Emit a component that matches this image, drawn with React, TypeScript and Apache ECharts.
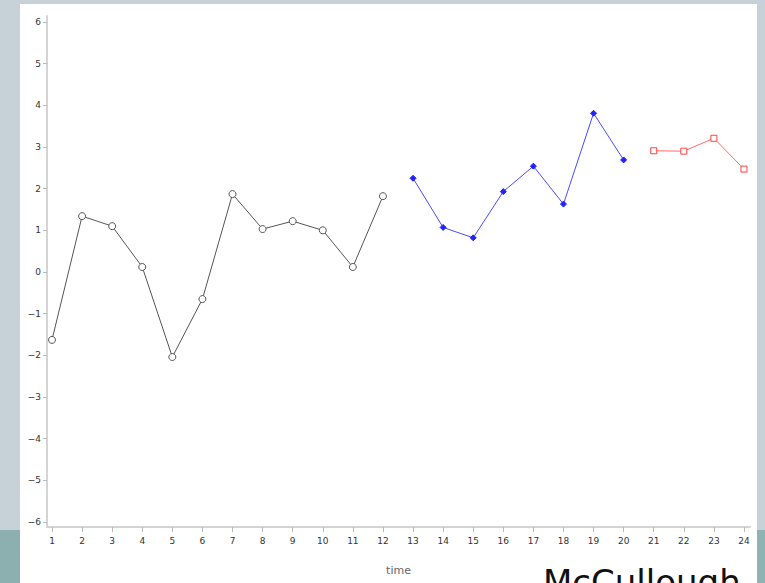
import React, { useEffect, useRef } from "react";
import * as echarts from "echarts";

const xTicks = [1, 2, 3, 4, 5, 6, 7, 8, 9, 10, 11, 12, 13, 14, 15, 16, 17, 18, 19, 20, 21, 22, 23, 24];
const yTicks = [-6, -5, -4, -3, -2, -1, 0, 1, 2, 3, 4, 5, 6];

const timeA = [1, 2, 3, 4, 5, 6, 7, 8, 9, 10, 11, 12];
const valuesA = [-1.63, 1.34, 1.1, 0.12, -2.04, -0.65, 1.87, 1.03, 1.22, 1.0, 0.12, 1.82];

const timeB = [13, 14, 15, 16, 17, 18, 19, 20];
const valuesB = [2.25, 1.07, 0.82, 1.93, 2.54, 1.63, 3.81, 2.69];

const timeC = [21, 22, 23, 24];
const valuesC = [2.91, 2.9, 3.21, 2.47];

const pair = (xs: number[], ys: number[]) => xs.map((x, i) => [x, ys[i]]);

export default function App() {
  const ref = useRef<HTMLDivElement>(null);
  useEffect(() => {
    document.body.style.margin = "0";
    const chart = echarts.init(ref.current!, null, { renderer: "svg" });
    const minus = (v: number) => String(v).replace("-", "\u2212");
    chart.setOption({
      animation: false,
      backgroundColor: "transparent",
      grid: { left: 47, right: 15, top: 16, bottom: 56 },
      xAxis: {
        type: "value",
        min: 0.834,
        max: 24.2,
        name: "time",
        nameLocation: "middle",
        nameGap: 38,
        nameTextStyle: { color: "#666", fontSize: 11, fontFamily: "DejaVu Sans" },
        splitLine: { show: false },
        axisLine: { show: true, onZero: false, lineStyle: { color: "#d4d4d4", width: 2 } },
        axisTick: { show: true, customValues: xTicks, length: 5, lineStyle: { color: "#bbb" } },
        axisLabel: {
          customValues: xTicks,
          color: "#333",
          fontSize: 9,
          fontFamily: "DejaVu Sans",
          margin: 9,
        },
      },
      yAxis: {
        type: "value",
        min: -6.12,
        max: 6.144,
        splitLine: { show: false },
        axisLine: { show: true, onZero: false, lineStyle: { color: "#d4d4d4", width: 2 } },
        axisTick: { show: true, customValues: yTicks, length: 4, lineStyle: { color: "#bbb" } },
        axisLabel: {
          customValues: yTicks,
          color: "#333",
          fontSize: 9,
          fontFamily: "DejaVu Sans",
          margin: 6,
          formatter: minus,
        },
      },
      series: [
        {
          type: "line",
          data: pair(timeA, valuesA),
          symbol: "circle",
          symbolSize: 7,
          lineStyle: { color: "#555", width: 1 },
          itemStyle: { color: "#fff", borderColor: "#555", borderWidth: 1 },
        },
        {
          type: "line",
          data: pair(timeB, valuesB),
          symbol: "diamond",
          symbolSize: 6,
          lineStyle: { color: "#4a4aff", width: 1 },
          itemStyle: { color: "#2222ff", borderColor: "#2222ff", borderWidth: 1 },
        },
        {
          type: "line",
          data: pair(timeC, valuesC),
          symbol: "rect",
          symbolSize: 6,
          lineStyle: { color: "#ff6a6a", width: 1 },
          itemStyle: { color: "#fff", borderColor: "#ff4040", borderWidth: 1 },
        },
      ],
      graphic: [
        {
          type: "text",
          left: 543,
          top: 565,
          style: {
            text: "McCullough",
            fill: "#111",
            font: "34px 'DejaVu Sans'",
          },
        },
      ],
    });
    return () => chart.dispose();
  }, []);
  return (
    <div style={{ position: "fixed", left: 0, top: 0, width: 765, height: 583, background: "#c6d2d7", overflow: "hidden" }}>
      <div style={{ position: "absolute", left: 0, top: 530, width: 765, height: 53, background: "linear-gradient(90deg, #8cb0b0, #8fb2b2)" }} />
      <div style={{ position: "absolute", left: 20, top: 4, width: 737, height: 579, background: "#fff" }} />
      <div ref={ref} style={{ position: "absolute", left: 0, top: 0, width: 765, height: 583 }} />
    </div>
  );
}
